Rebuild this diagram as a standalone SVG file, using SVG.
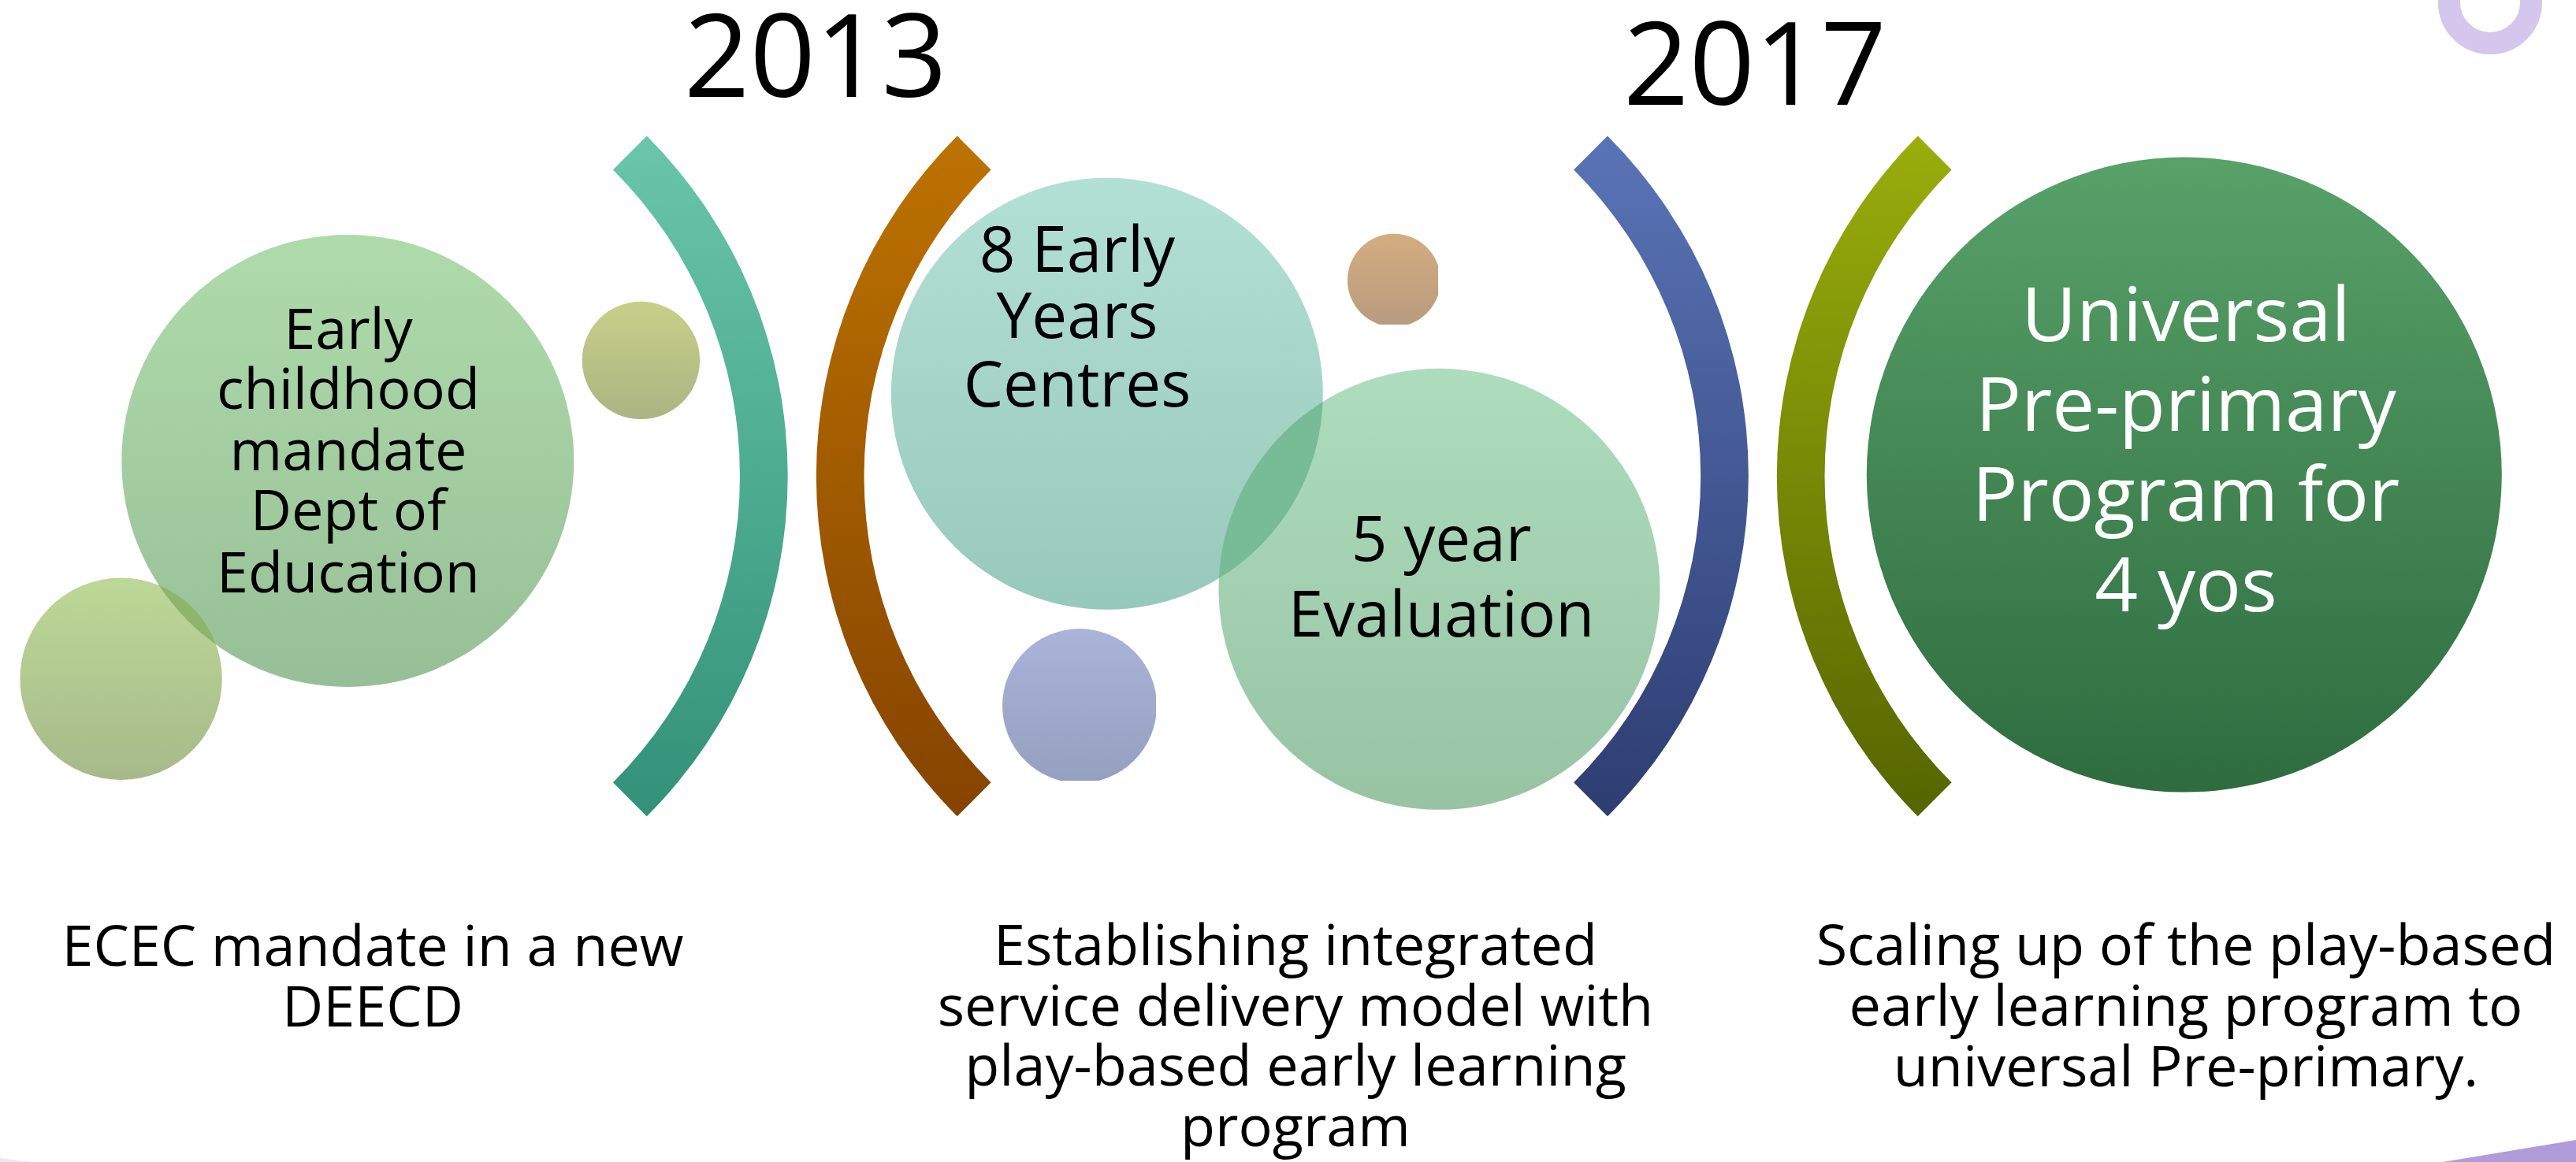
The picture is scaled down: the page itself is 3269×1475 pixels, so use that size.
<svg xmlns="http://www.w3.org/2000/svg" width="3269" height="1475" viewBox="0 0 3269 1475">
<defs>
<style>
.t{font-family:"Open Sans","Noto Sans","DejaVu Sans",sans-serif;text-anchor:middle;fill:#000}
.w{fill:#fff}
.yr{font-size:146px}
.s72{font-size:72px}
.s80{font-size:80px}
.s96{font-size:96px}
</style>
<linearGradient id="gTeal" x1="0" y1="0" x2="0" y2="1"><stop offset="0" stop-color="#69C6A9"/><stop offset="1" stop-color="#329178"/></linearGradient>
<linearGradient id="gBrown" x1="0" y1="0" x2="0" y2="1"><stop offset="0" stop-color="#BD7300"/><stop offset="1" stop-color="#854300"/></linearGradient>
<linearGradient id="gBlue" x1="0" y1="0" x2="0" y2="1"><stop offset="0" stop-color="#5974B6"/><stop offset="1" stop-color="#2E3D72"/></linearGradient>
<linearGradient id="gOlive" x1="0" y1="0" x2="0" y2="1"><stop offset="0" stop-color="#99AD0C"/><stop offset="1" stop-color="#556500"/></linearGradient>
<linearGradient id="gC1" x1="0" y1="0" x2="0" y2="1"><stop offset="0" stop-color="#AFDBAB"/><stop offset="1" stop-color="#97BF97"/></linearGradient>
<linearGradient id="gC1s" x1="0" y1="0" x2="0" y2="1"><stop offset="0" stop-color="#BDD896"/><stop offset="1" stop-color="#A7B98B"/></linearGradient>
<linearGradient id="gOv1" x1="0" y1="0" x2="0" y2="1"><stop offset="0" stop-color="#8DB86B"/><stop offset="1" stop-color="#86AE6A"/></linearGradient>
<linearGradient id="gOl" x1="0" y1="0" x2="0" y2="1"><stop offset="0" stop-color="#C7D088"/><stop offset="1" stop-color="#ABB483"/></linearGradient>
<linearGradient id="gC8" x1="0" y1="0" x2="0" y2="1"><stop offset="0" stop-color="#B3E0D4"/><stop offset="1" stop-color="#97C9BA"/></linearGradient>
<linearGradient id="gC5" x1="0" y1="0" x2="0" y2="1"><stop offset="0" stop-color="#ADDDBD"/><stop offset="1" stop-color="#97C3A3"/></linearGradient>
<linearGradient id="gBr" x1="0" y1="0" x2="0" y2="1"><stop offset="0" stop-color="#D4AC80"/><stop offset="1" stop-color="#B79C80"/></linearGradient>
<linearGradient id="gBl" x1="0" y1="0" x2="0" y2="1"><stop offset="0" stop-color="#AAB3D9"/><stop offset="1" stop-color="#95A0BF"/></linearGradient>
<linearGradient id="gBig" x1="0" y1="0" x2="0" y2="1"><stop offset="0" stop-color="#58A169"/><stop offset="1" stop-color="#2E6C3F"/></linearGradient>
<clipPath id="clipC1"><circle cx="441.3" cy="585" r="287"/></clipPath>
<clipPath id="clipC8"><circle cx="1404.8" cy="499.8" r="274"/></clipPath>
<clipPath id="clipBr"><rect x="1700" y="290" width="125" height="122"/></clipPath>
<clipPath id="clipBl"><rect x="1260" y="790" width="207" height="201"/></clipPath>
</defs>
<rect width="3269" height="1475" fill="#fff"/>

<g id="decorations">
<circle cx="3160" cy="3" r="52" fill="none" stroke="#D4C6EC" stroke-width="28"/>
<polygon points="3100,1475 3269,1447 3269,1475" fill="#B09CD8"/>
<polygon points="0,1470 40,1475 0,1475" fill="#ECE8F6"/>
</g>

<g id="connectors">
<path id="bracket-teal" d="M 820.8 172.6 A 610.6 610.6 0 0 1 820.8 1036.2 L 777.9 993.3 A 550 550 0 0 0 777.9 215.5 Z" fill="url(#gTeal)"/>
<path id="bracket-brown" d="M 1214.7 172.6 A 610.6 610.6 0 0 0 1214.7 1036.2 L 1257.6 993.3 A 550 550 0 0 1 1257.6 215.5 Z" fill="url(#gBrown)"/>
<path id="bracket-blue" d="M 2040 172.6 A 610.6 610.6 0 0 1 2040 1036.2 L 1997.1 993.3 A 550 550 0 0 0 1997.1 215.5 Z" fill="url(#gBlue)"/>
<path id="bracket-olive" d="M 2433.7 172.6 A 610.6 610.6 0 0 0 2433.7 1036.2 L 2476.6 993.3 A 550 550 0 0 1 2476.6 215.5 Z" fill="url(#gOlive)"/>
</g>

<g id="year-2013"><text class="t yr" x="1035" y="123">2013</text></g>
<g id="year-2017"><text class="t yr" x="2227" y="133">2017</text></g>

<g id="node-early-childhood">
<circle cx="441.3" cy="585" r="287" fill="url(#gC1)"/>
<circle cx="153.6" cy="861.8" r="128.2" fill="url(#gC1s)"/>
<circle cx="153.6" cy="861.8" r="128.2" fill="url(#gOv1)" clip-path="url(#clipC1)"/>
<text class="t s72"><tspan x="442" y="443">Early</tspan><tspan x="442" y="519">childhood</tspan><tspan x="442" y="597">mandate</tspan><tspan x="442" y="673">Dept of</tspan><tspan x="442" y="752">Education</tspan></text>
</g>

<g id="dot-olive"><circle cx="813.4" cy="457.4" r="74.7" fill="url(#gOl)"/></g>

<g id="node-early-years-centres">
<circle cx="1404.8" cy="499.8" r="274" fill="url(#gC8)"/>
<text class="t s80"><tspan x="1367" y="345">8 Early</tspan><tspan x="1367" y="429">Years</tspan><tspan x="1367" y="516">Centres</tspan></text>
</g>

<g id="node-evaluation">
<circle cx="1826.5" cy="747.8" r="280" fill="url(#gC5)"/>
<circle cx="1826.5" cy="747.8" r="280" fill="#77BC97" clip-path="url(#clipC8)"/>
<text class="t s80"><tspan x="1829" y="712">5 year</tspan><tspan x="1829" y="808">Evaluation</tspan></text>
</g>

<g id="dot-brown"><circle cx="1769" cy="355.7" r="59" fill="url(#gBr)" clip-path="url(#clipBr)"/></g>
<g id="dot-blue"><circle cx="1370" cy="896" r="98" fill="url(#gBl)" clip-path="url(#clipBl)"/></g>

<g id="node-universal">
<circle cx="2771.8" cy="602.6" r="403" fill="url(#gBig)"/>
<text class="t s96 w"><tspan x="2774" y="433">Universal</tspan><tspan x="2774" y="546.5">Pre-primary</tspan><tspan x="2774" y="661">Program for</tspan><tspan x="2774" y="776">4 yos</tspan></text>
</g>

<g id="label-deecd">
<text class="t s72"><tspan x="473" y="1226">ECEC mandate in a new</tspan><tspan x="473" y="1303">DEECD</tspan></text>
</g>
<g id="label-integrated">
<text class="t s72"><tspan x="1644" y="1225">Establishing integrated</tspan><tspan x="1644" y="1301.5">service delivery model with</tspan><tspan x="1644" y="1378">play-based early learning</tspan><tspan x="1644" y="1454.5">program</tspan></text>
</g>
<g id="label-scaling">
<text class="t s72"><tspan x="2774" y="1225">Scaling up of the play-based</tspan><tspan x="2774" y="1302">early learning program to</tspan><tspan x="2774" y="1379">universal Pre-primary.</tspan></text>
</g>
</svg>
